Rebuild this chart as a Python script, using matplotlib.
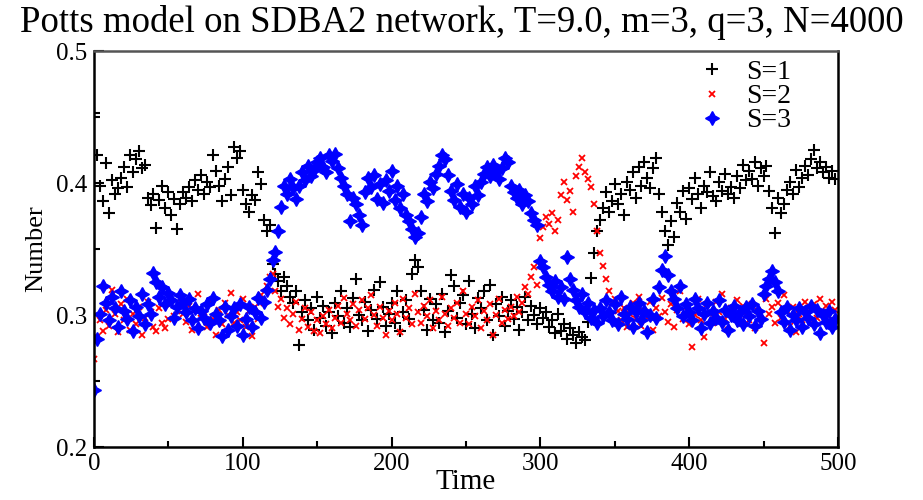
import numpy as np
import matplotlib.pyplot as plt
from matplotlib.ticker import MultipleLocator

plt.rcParams['font.family'] = ['Liberation Serif', 'DejaVu Serif']

# время (шаг 2) и доли узлов в каждом состоянии
time = np.arange(0, 500, 2)

s1 = [
    0.453, 0.421, 0.398, 0.386, 0.415, 0.377, 0.402, 0.392, 0.396, 0.404,
    0.412, 0.397, 0.421, 0.408, 0.418, 0.424, 0.411, 0.414, 0.389, 0.383,
    0.392, 0.366, 0.387, 0.398, 0.381, 0.393, 0.376, 0.388, 0.365, 0.384,
    0.393, 0.389, 0.397, 0.386, 0.402, 0.395, 0.406, 0.392, 0.401, 0.397,
    0.421, 0.409, 0.398, 0.386, 0.403, 0.412, 0.391, 0.427, 0.419, 0.424,
    0.395, 0.384, 0.378, 0.391, 0.387, 0.408, 0.399, 0.372, 0.364, 0.368,
    0.339, 0.331, 0.326, 0.318, 0.329, 0.322, 0.314, 0.309, 0.318, 0.277,
    0.302, 0.311, 0.296, 0.305, 0.289, 0.314, 0.298, 0.307, 0.292, 0.302,
    0.286, 0.309, 0.299, 0.318, 0.294, 0.305, 0.291, 0.313, 0.327, 0.300,
    0.296, 0.310, 0.288, 0.304, 0.319, 0.297, 0.325, 0.306, 0.292, 0.301,
    0.309, 0.294, 0.318, 0.288, 0.302, 0.311, 0.297, 0.331, 0.342, 0.336,
    0.318, 0.304, 0.289, 0.312, 0.296, 0.308, 0.294, 0.316, 0.287, 0.303,
    0.330, 0.322, 0.298, 0.309, 0.315, 0.293, 0.326, 0.301, 0.290, 0.313,
    0.305, 0.318, 0.296, 0.323, 0.285, 0.308, 0.299, 0.314, 0.292, 0.303,
    0.311, 0.297, 0.306, 0.289, 0.302, 0.314, 0.296, 0.307, 0.300, 0.293,
    0.305, 0.298, 0.302, 0.291, 0.296, 0.286, 0.301, 0.288, 0.293, 0.282,
    0.290, 0.285, 0.279, 0.287, 0.283, 0.281, 0.295, 0.328, 0.347, 0.364,
    0.372, 0.381, 0.393, 0.378, 0.386, 0.399, 0.384, 0.392, 0.376, 0.401,
    0.395, 0.408, 0.389, 0.412, 0.398, 0.416, 0.404, 0.396, 0.411, 0.419,
    0.392, 0.378, 0.364, 0.353, 0.371, 0.359, 0.385, 0.378, 0.394, 0.373,
    0.396, 0.388, 0.404, 0.392, 0.381, 0.398, 0.393, 0.408, 0.390, 0.386,
    0.401, 0.394, 0.407, 0.392, 0.397, 0.389, 0.405, 0.396, 0.414, 0.402,
    0.409, 0.403, 0.416, 0.398, 0.411, 0.405, 0.413, 0.394, 0.381, 0.362,
    0.389, 0.377, 0.384, 0.395, 0.401, 0.392, 0.410, 0.397, 0.404, 0.413,
    0.406, 0.418, 0.425, 0.411, 0.416, 0.408, 0.412, 0.404, 0.409, 0.403,
]

s2 = [
    0.267, 0.283, 0.296, 0.288, 0.304, 0.292, 0.319, 0.301, 0.287, 0.308,
    0.296, 0.312, 0.289, 0.301, 0.293, 0.306, 0.285, 0.298, 0.310, 0.302,
    0.291, 0.288, 0.305, 0.294, 0.290, 0.297, 0.308, 0.299, 0.303, 0.312,
    0.301, 0.295, 0.307, 0.289, 0.304, 0.316, 0.298, 0.302, 0.291, 0.310,
    0.297, 0.285, 0.304, 0.293, 0.309, 0.300, 0.317, 0.294, 0.302, 0.296,
    0.312, 0.291, 0.303, 0.284, 0.306, 0.297, 0.315, 0.309, 0.322, 0.329,
    0.331, 0.318, 0.306, 0.312, 0.298, 0.305, 0.293, 0.301, 0.310, 0.289,
    0.297, 0.305, 0.291, 0.302, 0.288, 0.296, 0.286, 0.299, 0.293, 0.304,
    0.290, 0.298, 0.307, 0.294, 0.313, 0.301, 0.296, 0.308, 0.292, 0.304,
    0.311, 0.297, 0.305, 0.315, 0.300, 0.292, 0.306, 0.298, 0.285, 0.303,
    0.296, 0.309, 0.301, 0.287, 0.312, 0.298, 0.305, 0.293, 0.316, 0.302,
    0.294, 0.307, 0.299, 0.311, 0.290, 0.303, 0.296, 0.314, 0.301, 0.292,
    0.305, 0.298, 0.309, 0.294, 0.318, 0.301, 0.293, 0.306, 0.299, 0.311,
    0.290, 0.303, 0.296, 0.308, 0.285, 0.300, 0.312, 0.294, 0.304, 0.297,
    0.306, 0.299, 0.314, 0.302, 0.309, 0.321, 0.316, 0.329, 0.336, 0.323,
    0.358, 0.367, 0.374, 0.369, 0.377, 0.364, 0.372, 0.391, 0.401, 0.387,
    0.394, 0.378, 0.405, 0.412, 0.419, 0.408, 0.403, 0.397, 0.384, 0.364,
    0.347, 0.337, 0.327, 0.318, 0.309, 0.312, 0.303, 0.296, 0.305, 0.291,
    0.301, 0.309, 0.297, 0.314, 0.292, 0.303, 0.298, 0.310, 0.289, 0.305,
    0.299, 0.313, 0.302, 0.295, 0.308, 0.291, 0.304, 0.318, 0.297, 0.306,
    0.293, 0.276, 0.300, 0.312, 0.296, 0.283, 0.308, 0.301, 0.294, 0.310,
    0.302, 0.316, 0.297, 0.289, 0.305, 0.299, 0.311, 0.293, 0.307, 0.300,
    0.296, 0.308, 0.290, 0.303, 0.297, 0.279, 0.312, 0.301, 0.306, 0.294,
    0.309, 0.298, 0.315, 0.303, 0.292, 0.306, 0.287, 0.301, 0.296, 0.310,
    0.305, 0.294, 0.308, 0.298, 0.312, 0.302, 0.307, 0.299, 0.310, 0.304,
]

s3 = [
    0.243, 0.282, 0.301, 0.322, 0.309, 0.296, 0.314, 0.305, 0.291, 0.318,
    0.303, 0.297, 0.311, 0.288, 0.306, 0.299, 0.316, 0.293, 0.308, 0.301,
    0.332, 0.325, 0.314, 0.321, 0.308, 0.317, 0.311, 0.298, 0.306, 0.315,
    0.309, 0.302, 0.312, 0.296, 0.305, 0.290, 0.303, 0.298, 0.308, 0.294,
    0.313, 0.301, 0.296, 0.284, 0.306, 0.289, 0.299, 0.305, 0.292, 0.308,
    0.285, 0.297, 0.306, 0.291, 0.302, 0.313, 0.298, 0.310, 0.319, 0.327,
    0.342, 0.348, 0.364, 0.382, 0.398, 0.392, 0.403, 0.396, 0.388, 0.398,
    0.408, 0.402, 0.413, 0.405, 0.410, 0.416, 0.419, 0.412, 0.408, 0.421,
    0.417, 0.422, 0.411, 0.404, 0.398, 0.392, 0.371, 0.389, 0.384, 0.376,
    0.368, 0.393, 0.404, 0.397, 0.406, 0.388, 0.399, 0.385, 0.402, 0.394,
    0.409, 0.387, 0.398, 0.381, 0.392, 0.376, 0.371, 0.365, 0.359, 0.362,
    0.374, 0.392, 0.386, 0.401, 0.396, 0.407, 0.413, 0.421, 0.418, 0.406,
    0.394, 0.387, 0.399, 0.382, 0.392, 0.378, 0.389, 0.384, 0.398, 0.391,
    0.401, 0.407, 0.412, 0.405, 0.414, 0.409, 0.403, 0.411, 0.419, 0.416,
    0.398, 0.393, 0.389, 0.395, 0.384, 0.391, 0.386, 0.377, 0.372, 0.368,
    0.341, 0.336, 0.329, 0.323, 0.318, 0.326, 0.314, 0.321, 0.312, 0.344,
    0.327, 0.319, 0.311, 0.306, 0.316, 0.302, 0.309, 0.298, 0.304, 0.294,
    0.305, 0.299, 0.311, 0.302, 0.296, 0.308, 0.293, 0.314, 0.301, 0.297,
    0.306, 0.291, 0.302, 0.309, 0.296, 0.303, 0.287, 0.300, 0.312, 0.298,
    0.321, 0.334, 0.345, 0.330, 0.318, 0.312, 0.305, 0.322, 0.299, 0.308,
    0.302, 0.296, 0.312, 0.305, 0.290, 0.301, 0.309, 0.294, 0.303, 0.298,
    0.311, 0.295, 0.304, 0.289, 0.300, 0.307, 0.296, 0.302, 0.293, 0.306,
    0.299, 0.308, 0.292, 0.303, 0.297, 0.316, 0.322, 0.327, 0.333, 0.325,
    0.318, 0.302, 0.295, 0.306, 0.289, 0.300, 0.296, 0.305, 0.291, 0.302,
    0.298, 0.307, 0.293, 0.304, 0.286, 0.300, 0.295, 0.303, 0.291, 0.297,
]

fig = plt.figure(figsize=(9.23, 5.0), dpi=100)
ax = fig.add_axes([0.1018, 0.106, 0.806, 0.792])

ax.plot(time, s1, '+', color='black', markersize=8.5, markeredgewidth=1.5, label='S=1')
ax.plot(time, s2, 'x', color='red', markersize=5, markeredgewidth=1.3, label='S=2')
ax.plot(time, s3, marker=(4, 1, 0), linestyle='none', color='blue', markersize=10,
        label='S=3')

ax.set_xlim(0, 500)
ax.set_ylim(0.2, 0.5)
ax.xaxis.set_major_locator(MultipleLocator(100))
ax.xaxis.set_minor_locator(MultipleLocator(50))
ax.yaxis.set_major_locator(MultipleLocator(0.1))
ax.yaxis.set_minor_locator(MultipleLocator(0.05))
ax.tick_params(which='both', direction='in', top=False, right=False, width=1.5,
               labelsize=18)
ax.tick_params(axis='x', pad=4)
ax.tick_params(axis='y', pad=5)
ax.tick_params(which='major', length=7)
ax.tick_params(which='minor', length=4)
for side in ax.spines.values():
    side.set_linewidth(1.8)
ax.spines['top'].set_color('#555555')

ax.set_xlabel('Time', fontsize=21, labelpad=-4)
ax.set_ylabel('Number', fontsize=19, labelpad=6)
fig.text(0.5, 0.99, 'Potts model on SDBA2 network, T=9.0, m=3, q=3, N=4000',
         ha='center', va='top', fontsize=26.5)

ax.legend(loc='upper right', frameon=False, fontsize=20, handlelength=1.0,
          handletextpad=0.75, labelspacing=-0.05, borderaxespad=0.2,
          bbox_to_anchor=(0.96, 1.02))

fig.savefig('out.png', dpi=100)
